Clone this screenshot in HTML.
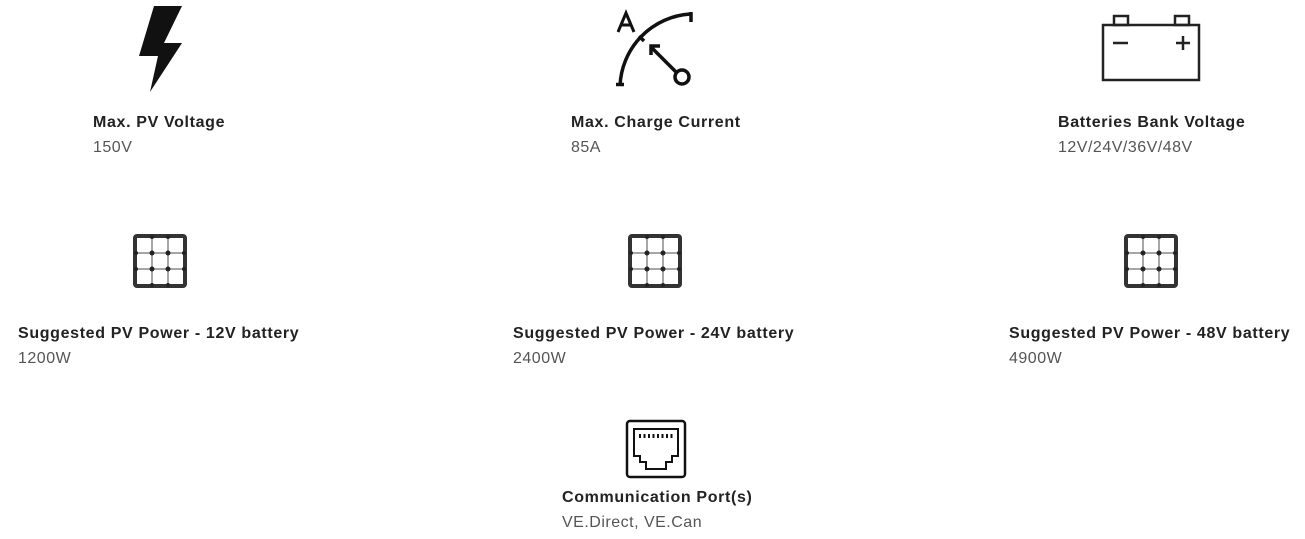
<!DOCTYPE html>
<html><head><meta charset="utf-8"><style>
html,body{margin:0;padding:0;background:#fff;width:1305px;height:539px;overflow:hidden;position:relative;font-family:"Liberation Sans",sans-serif}
.t{position:absolute;font-size:16px;line-height:20px;letter-spacing:0.65px;white-space:nowrap}
.b{font-weight:bold;color:#222}
.v{color:#555;letter-spacing:0.5px}
svg{position:absolute;left:0;top:0}
</style></head><body>
<svg width="1305" height="539" viewBox="0 0 1305 539">
<polygon points="154,6 182,6 164,43 182,43 150,92 158,56 139,56" fill="#111"/>
<g fill="none" stroke="#111" stroke-width="3.5" stroke-linecap="butt">
<path d="M620,86 A75,75 0 0 1 690,14"/>
<line x1="616" y1="84.5" x2="624" y2="84.5"/>
<line x1="691" y1="12" x2="691" y2="22"/>
<line x1="639" y1="36" x2="644" y2="41"/>
<line x1="652" y1="48" x2="676" y2="72"/>
<polyline points="651,55 651,46 660,46"/>
<circle cx="682" cy="77" r="7"/>
<path d="M618,32 L626,13 L634,32 M621,25 L631,25" stroke-width="3"/>
</g>
<g fill="none" stroke="#222" stroke-width="2.5">
<rect x="1103" y="25" width="96" height="55"/>
<rect x="1114" y="16" width="14" height="9"/>
<rect x="1175" y="16" width="14" height="9"/>
<line x1="1113" y1="43" x2="1128" y2="43"/>
<line x1="1176" y1="43" x2="1190" y2="43"/>
<line x1="1183" y1="36" x2="1183" y2="50"/>
</g>
<defs>
<g id="panel">
<rect x="2" y="2" width="50" height="50" rx="2" fill="#fff" stroke="#333" stroke-width="4"/>
<g stroke="#888" stroke-width="1.5">
<line x1="19" y1="3" x2="19" y2="51"/><line x1="35" y1="3" x2="35" y2="51"/>
<line x1="3" y1="19" x2="51" y2="19"/><line x1="3" y1="35" x2="51" y2="35"/>
</g>
<g fill="#222">
<circle cx="19" cy="19" r="2.5"/><circle cx="35" cy="19" r="2.5"/><circle cx="19" cy="35" r="2.5"/><circle cx="35" cy="35" r="2.5"/>
<circle cx="19" cy="3" r="2"/><circle cx="35" cy="3" r="2"/><circle cx="19" cy="51" r="2"/><circle cx="35" cy="51" r="2"/>
<circle cx="3" cy="19" r="2"/><circle cx="3" cy="35" r="2"/><circle cx="51" cy="19" r="2"/><circle cx="51" cy="35" r="2"/>
</g>
</g>
</defs>
<use href="#panel" x="133" y="234"/>
<use href="#panel" x="628" y="234"/>
<use href="#panel" x="1124" y="234"/>
<g fill="none" stroke="#111" stroke-width="2.5">
<rect x="627" y="421" width="58" height="56" rx="3"/>
<path d="M634,429 L678,429 L678,456 L672,456 L672,462 L666,462 L666,469 L646,469 L646,462 L640,462 L640,456 L634,456 Z" stroke-width="2"/>
</g>
<g fill="#111">
<rect x="639" y="434" width="2" height="4"/><rect x="643.5" y="434" width="2" height="4"/><rect x="648" y="434" width="2" height="4"/><rect x="652.5" y="434" width="2" height="4"/><rect x="657" y="434" width="2" height="4"/><rect x="661.5" y="434" width="2" height="4"/><rect x="666" y="434" width="2" height="4"/><rect x="670.5" y="434" width="2" height="4"/>
</g>
</svg>
<div class="t b" style="left:93px;top:113px">Max. PV Voltage</div>
<div class="t v" style="left:93px;top:138px">150V</div>
<div class="t b" style="left:571px;top:113px">Max. Charge Current</div>
<div class="t v" style="left:571px;top:138px">85A</div>
<div class="t b" style="left:1058px;top:113px">Batteries Bank Voltage</div>
<div class="t v" style="left:1058px;top:138px">12V/24V/36V/48V</div>
<div class="t b" style="left:18px;top:324px">Suggested PV Power - 12V battery</div>
<div class="t v" style="left:18px;top:349px">1200W</div>
<div class="t b" style="left:513px;top:324px">Suggested PV Power - 24V battery</div>
<div class="t v" style="left:513px;top:349px">2400W</div>
<div class="t b" style="left:1009px;top:324px">Suggested PV Power - 48V battery</div>
<div class="t v" style="left:1009px;top:349px">4900W</div>
<div class="t b" style="left:562px;top:488px">Communication Port(s)</div>
<div class="t v" style="left:562px;top:513px">VE.Direct, VE.Can</div>
</body></html>
